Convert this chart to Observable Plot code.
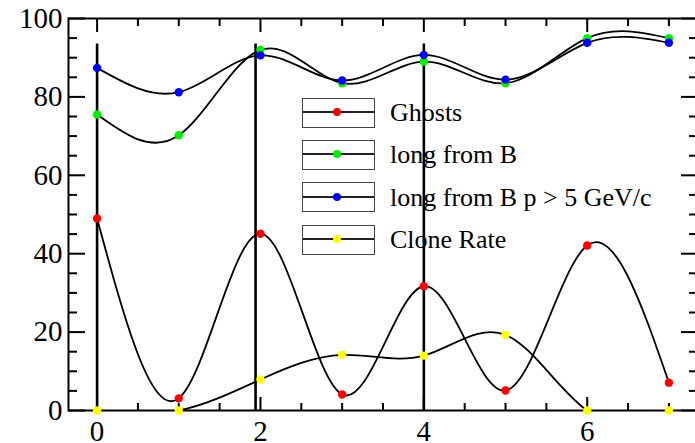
<!DOCTYPE html>
<html>
<head>
<meta charset="utf-8">
<script src="https://cdn.jsdelivr.net/npm/d3@7"></script>
<script src="https://cdn.jsdelivr.net/npm/@observablehq/plot@0.6"></script>
<style>
  html, body { margin: 0; padding: 0; background: white; }
  #wrap { position: relative; width: 695px; height: 443px; overflow: hidden; }
  #legend { position: absolute; left: 0; top: 0; z-index: 0; font-family: "Liberation Serif", serif; }
  #chart { position: absolute; left: 0; top: 0; z-index: 1; }
  .lbox { position: absolute; box-sizing: border-box; border: 1.5px solid #444; }
  .lline { position: absolute; left: 0; right: 0; height: 2px; background: #222; }
  .ldot { position: absolute; width: 8px; height: 8px; border-radius: 50%; }
  .ltext { position: absolute; font-size: 26px; line-height: 30px; white-space: nowrap; color: #000; }
</style>
</head>
<body>
<div id="wrap"><div id="legend"></div><div id="chart"></div></div>
<script>
// ---- data ----
const xs = [0, 1, 2, 3, 4, 5, 6, 7];
const seriesNames = ["Ghosts", "long from B", "long from B p > 5 GeV/c", "Clone Rate"];
const seriesColors = ["#ff0000", "#00ee00", "#0000ff", "#ffff00"];
const ghosts   = [49.0, 3.1, 45.1, 4.1, 31.7, 5.1, 42.1, 7.1];
const longB    = [75.5, 70.2, 92.0, 83.5, 89.0, 83.5, 95.0, 95.0];
const longB5   = [87.4, 81.2, 90.6, 84.2, 90.7, 84.4, 93.8, 93.8];
const cloneRate= [0, 0, 7.9, 14.2, 14.0, 19.3, 0, 0];
const seriesValues = [ghosts, longB, longB5, cloneRate];

const vlineX = [0, 1.94, 4];
const vlineTop = 93.5;

const xTicksMajor = [0, 2, 4, 6];
const xTicksMinor = [0.5, 1, 1.5, 2.5, 3, 3.5, 4.5, 5, 5.5, 6.5, 7];
const yTicksMajor = [0, 20, 40, 60, 80, 100];
const yTicksMinor = [5, 10, 15, 25, 30, 35, 45, 50, 55, 65, 70, 75, 85, 90, 95];

// ---- table ----
const rows = [];
seriesNames.forEach((name, si) => {
  xs.forEach((x, i) => rows.push({series: name, color: seriesColors[si], x, y: seriesValues[si][i]}));
});
const vlines = vlineX.map(x => ({x, top: vlineTop}));

const font = "Liberation Serif";
const chart = Plot.plot({
  width: 695,
  height: 443,
  marginLeft: 68,
  marginRight: -2,
  marginTop: 18,
  marginBottom: 33,
  x: {domain: [-0.35, 7.35], label: null},
  y: {domain: [0, 100], label: null},
  style: {background: "transparent", fontFamily: font, overflow: "visible", color: "black"},
  marks: [
    Plot.ruleX(vlines, {x: "x", y1: 0, y2: "top", stroke: "black", strokeWidth: 2.6}),
    Plot.line(rows, {x: "x", y: "y", z: "series", curve: "natural", stroke: "black", strokeWidth: 1.8, clip: true}),
    Plot.frame({stroke: "black", strokeWidth: 2}),
    // x ticks (inward)
    Plot.axisX(xTicksMajor, {anchor: "bottom", tickSize: -13, tickFormat: () => "", strokeWidth: 2, label: null}),
    Plot.axisX(xTicksMinor, {anchor: "bottom", tickSize: -7, tickFormat: () => "", strokeWidth: 2, label: null}),
    Plot.axisX(xTicksMajor, {anchor: "top", tickSize: -13, tickFormat: () => "", strokeWidth: 2, label: null}),
    Plot.axisX(xTicksMinor, {anchor: "top", tickSize: -7, tickFormat: () => "", strokeWidth: 2, label: null}),
    Plot.axisX(xTicksMajor, {anchor: "bottom", tickSize: 0, tickPadding: 10, fontSize: 29, fontFamily: font, label: null}),
    // y ticks (inward)
    Plot.axisY(yTicksMajor, {anchor: "left", tickSize: -17, tickFormat: () => "", strokeWidth: 2, label: null}),
    Plot.axisY(yTicksMinor, {anchor: "left", tickSize: -9, tickFormat: () => "", strokeWidth: 2, label: null}),
    Plot.axisY(yTicksMajor, {anchor: "right", tickSize: -17, tickFormat: () => "", strokeWidth: 2, label: null}),
    Plot.axisY(yTicksMinor, {anchor: "right", tickSize: -9, tickFormat: () => "", strokeWidth: 2, label: null}),
    Plot.axisY(yTicksMajor, {anchor: "left", tickSize: 0, tickPadding: 6, fontSize: 29, fontFamily: font, label: null}),
    Plot.dot(rows, {x: "x", y: "y", fill: "color", r: 4.2, stroke: "none"})
  ]
});
document.getElementById("chart").appendChild(chart);

// ---- legend (inside plot, beneath the plot layer) ----
const legend = d3.select("#legend");
seriesNames.forEach((name, i) => {
  const top = 97.5 + i * 42.4;
  const box = legend.append("div").attr("class", "lbox")
    .style("left", "301.5px").style("top", top + "px")
    .style("width", "73px").style("height", "30px");
  box.append("div").attr("class", "lline").style("top", "12.5px");
  box.append("div").attr("class", "ldot")
    .style("left", (36 - 1.5 - 4) + "px").style("top", (13.5 - 4) + "px")
    .style("background", seriesColors[i]);
  legend.append("div").attr("class", "ltext")
    .style("left", "390px").style("top", (top + 0.5) + "px")
    .text(name);
});
</script>
</body>
</html>
